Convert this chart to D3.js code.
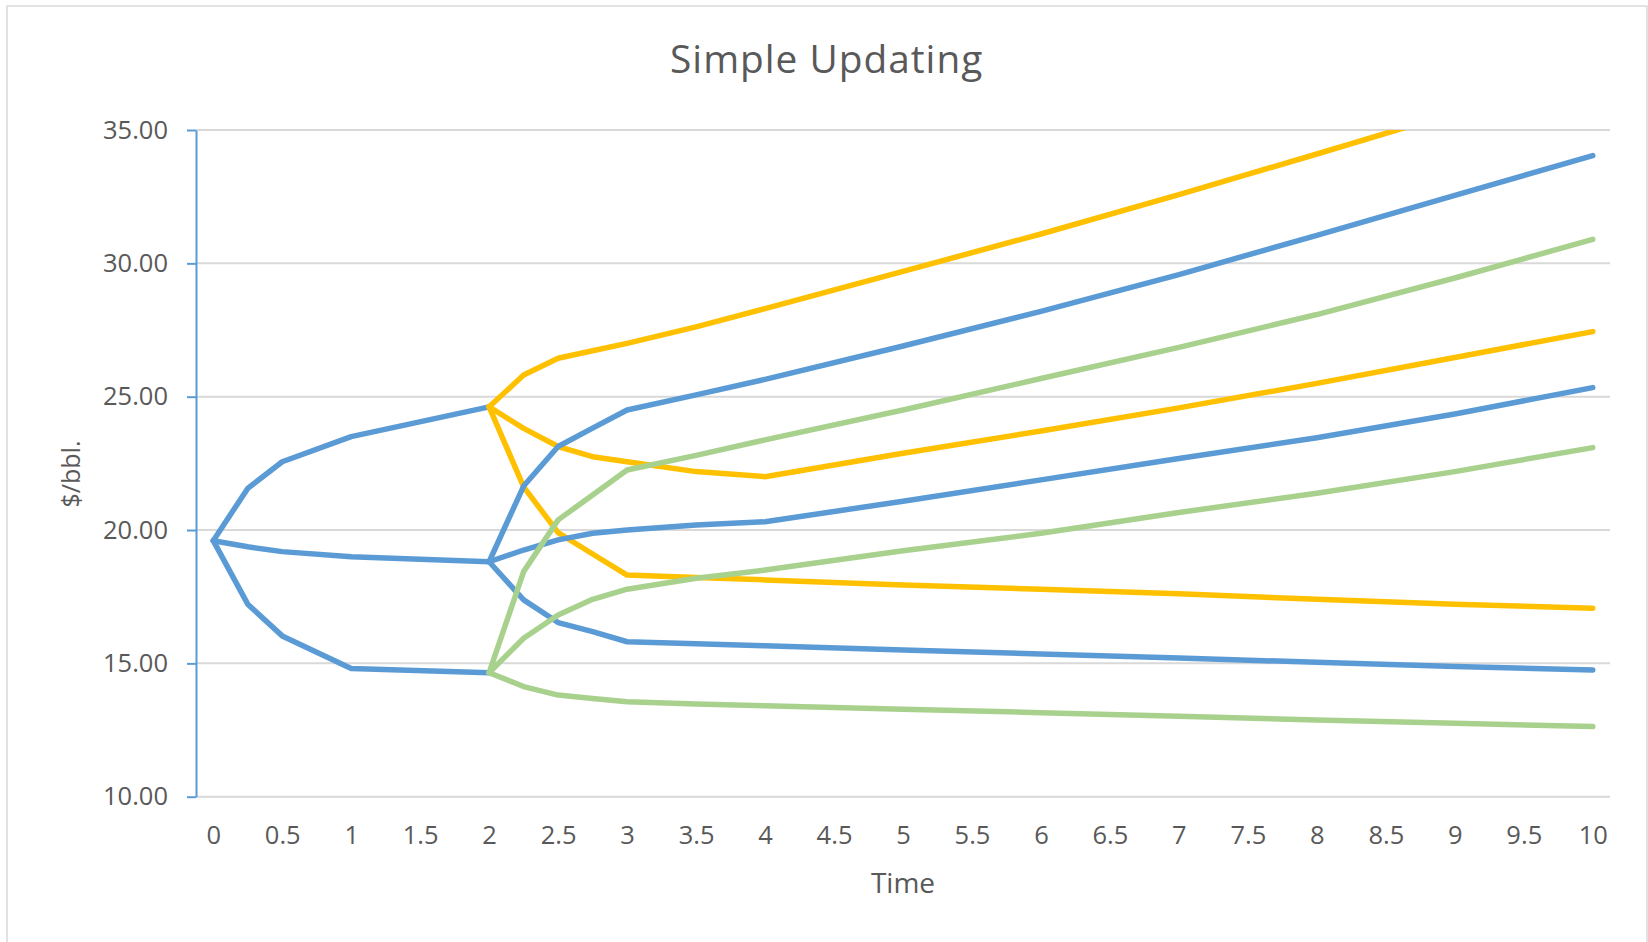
<!DOCTYPE html>
<html>
<head>
<meta charset="utf-8">
<script src="https://cdn.jsdelivr.net/npm/d3@7"></script>
<style>
  html, body { margin: 0; padding: 0; background: #ffffff; }
  svg { display: block; font-family: "Open Sans", "Noto Sans", sans-serif; }
</style>
</head>
<body>
<svg id="chart" width="1648" height="942"></svg>
<script>
// Time steps (years) and tick labels
const stage1Time = [0, 0.25, 0.5, 1, 2];
const stage2Time = [2, 2.25, 2.5, 2.75, 3, 3.5, 4, 5, 6, 7, 8, 9, 10];
const timeTicks = [0, 0.5, 1, 1.5, 2, 2.5, 3, 3.5, 4, 4.5, 5, 5.5, 6, 6.5, 7, 7.5, 8, 8.5, 9, 9.5, 10];
const priceTicks = [10, 15, 20, 25, 30, 35];

// First period: three price paths from today's price ($/bbl.)
const blueHigh1 = [19.60, 21.56, 22.56, 23.50, 24.62];
const blueMid1  = [19.60, 19.37, 19.19, 19.00, 18.81];
const blueLow1  = [19.60, 17.22, 16.03, 14.81, 14.65];

// Second period: updated paths from the high node
const yellowHigh = [24.62, 25.81, 26.44, 26.72, 27.00, 27.62, 28.30, 29.70, 31.10, 32.58, 34.10, 35.65, 37.35];
const yellowMid  = [24.62, 23.81, 23.13, 22.75, 22.56, 22.19, 22.00, 22.88, 23.71, 24.58, 25.50, 26.47, 27.44];
const yellowLow  = [24.62, 21.62, 19.90, 19.10, 18.31, 18.22, 18.13, 17.94, 17.78, 17.61, 17.40, 17.22, 17.07];

// Second period: updated paths from the middle node
const blueHigh2 = [18.81, 21.65, 23.13, 23.82, 24.50, 25.07, 25.65, 26.90, 28.20, 29.58, 31.05, 32.55, 34.04];
const blueMid2  = [18.81, 19.25, 19.63, 19.88, 20.00, 20.19, 20.31, 21.08, 21.88, 22.68, 23.46, 24.35, 25.34];
const blueLow2  = [18.81, 17.38, 16.53, 16.19, 15.81, 15.74, 15.66, 15.50, 15.35, 15.20, 15.04, 14.88, 14.75];

// Second period: updated paths from the low node
const greenHigh = [14.65, 18.44, 20.38, 21.31, 22.25, 22.80, 23.38, 24.50, 25.68, 26.85, 28.08, 29.45, 30.90];
const greenMid  = [14.65, 15.94, 16.81, 17.40, 17.78, 18.19, 18.50, 19.22, 19.88, 20.66, 21.38, 22.19, 23.09];
const greenLow  = [14.65, 14.13, 13.81, 13.68, 13.56, 13.48, 13.41, 13.28, 13.15, 13.02, 12.88, 12.75, 12.63];

const BLUE = "#5B9BD5", YELLOW = "#FFC000", GREEN = "#A9D18E";
const TEXT = "#595959", GRID = "#D9D9D9";

const series = [
  { time: stage1Time, values: blueHigh1, color: BLUE },
  { time: stage1Time, values: blueMid1,  color: BLUE },
  { time: stage1Time, values: blueLow1,  color: BLUE },
  { time: stage2Time, values: yellowHigh, color: YELLOW },
  { time: stage2Time, values: yellowMid,  color: YELLOW },
  { time: stage2Time, values: yellowLow,  color: YELLOW },
  { time: stage2Time, values: blueHigh2, color: BLUE },
  { time: stage2Time, values: blueMid2,  color: BLUE },
  { time: stage2Time, values: blueLow2,  color: BLUE },
  { time: stage2Time, values: greenHigh, color: GREEN },
  { time: stage2Time, values: greenMid,  color: GREEN },
  { time: stage2Time, values: greenLow,  color: GREEN }
];

const svg = d3.select("#chart");

// Plot area
const plot = { left: 196, right: 1610, top: 130, bottom: 796.7 };
const band = (plot.right - plot.left) / 41;   // 41 quarter-year slots

const x = d3.scaleLinear().domain([0, 10]).range([plot.left + band / 2, plot.right - band / 2]);
const y = d3.scaleLinear().domain([10, 35]).range([plot.bottom, plot.top]);

// Chart frame
svg.append("rect")
  .attr("x", 7).attr("y", 6).attr("width", 1640).attr("height", 960)
  .attr("fill", "#ffffff").attr("stroke", GRID).attr("stroke-width", 1.5);

// Title
svg.append("text")
  .attr("x", 826.7).attr("y", 73)
  .attr("text-anchor", "middle")
  .attr("fill", TEXT)
  .attr("font-size", 38.8)
  .attr("letter-spacing", 1)
  .text("Simple Updating");

// Horizontal gridlines
svg.append("g")
  .selectAll("line")
  .data(priceTicks)
  .join("line")
  .attr("x1", plot.left).attr("x2", plot.right)
  .attr("y1", d => y(d)).attr("y2", d => y(d))
  .attr("stroke", GRID).attr("stroke-width", 2);

// Vertical axis
const yAxis = svg.append("g")
  .attr("transform", `translate(${plot.left},0)`)
  .call(d3.axisLeft(y).tickValues(priceTicks).tickFormat(d3.format(".2f"))
    .tickSize(9).tickSizeOuter(0).tickPadding(19));
yAxis.select(".domain").attr("stroke", BLUE).attr("stroke-width", 2);
yAxis.selectAll(".tick line").attr("stroke", BLUE).attr("stroke-width", 2);
yAxis.selectAll(".tick text")
  .attr("fill", TEXT).attr("font-size", 25.5)
  .attr("font-family", "Open Sans, Noto Sans, sans-serif");

// Horizontal axis labels
const xAxis = svg.append("g")
  .attr("transform", `translate(0,${plot.bottom})`)
  .call(d3.axisBottom(x).tickValues(timeTicks).tickFormat(d3.format("~g"))
    .tickSize(0).tickPadding(0));
xAxis.select(".domain").remove();
xAxis.selectAll(".tick text")
  .attr("dy", null).attr("y", 47)
  .attr("fill", TEXT).attr("font-size", 25.5)
  .attr("font-family", "Open Sans, Noto Sans, sans-serif");

// Axis titles
svg.append("text")
  .attr("x", (plot.left + plot.right) / 2).attr("y", 893)
  .attr("text-anchor", "middle").attr("fill", TEXT).attr("font-size", 28)
  .text("Time");

svg.append("text")
  .attr("transform", "translate(80,474) rotate(-90)")
  .attr("text-anchor", "middle").attr("fill", TEXT).attr("font-size", 25)
  .text("$/bbl.");

// Price paths
svg.append("clipPath").attr("id", "plot-clip")
  .append("rect")
  .attr("x", plot.left).attr("y", plot.top)
  .attr("width", plot.right - plot.left).attr("height", plot.bottom - plot.top);

const line = d3.line()
  .x(d => x(d[0]))
  .y(d => y(d[1]));

svg.append("g")
  .attr("clip-path", "url(#plot-clip)")
  .selectAll("path")
  .data(series)
  .join("path")
  .attr("d", s => line(s.time.map((t, i) => [t, s.values[i]])))
  .attr("fill", "none")
  .attr("stroke", s => s.color)
  .attr("stroke-width", 5.5)
  .attr("stroke-linejoin", "round")
  .attr("stroke-linecap", "round");
</script>
</body>
</html>
